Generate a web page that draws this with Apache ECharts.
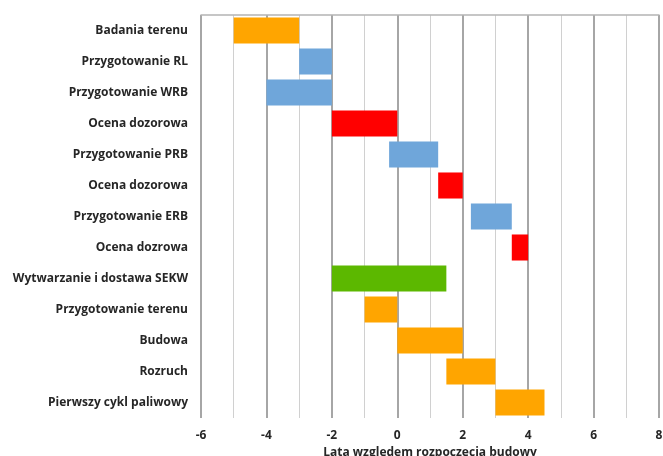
<!DOCTYPE html>
<html>
<head>
<meta charset="utf-8">
<script src="https://cdn.jsdelivr.net/npm/echarts@6/dist/echarts.min.js"></script>
<style>
  html, body { margin: 0; padding: 0; background: #fff; }
  #chart { width: 663px; height: 456px; }
</style>
</head>
<body>
<div id="chart"></div>
<script>
// Harmonogram: etapy i ich przedziały czasu (lata względem rozpoczęcia budowy)
const categories = [
  'Badania terenu',
  'Przygotowanie RL',
  'Przygotowanie WRB',
  'Ocena dozorowa',
  'Przygotowanie PRB',
  'Ocena dozorowa',
  'Przygotowanie ERB',
  'Ocena dozrowa',
  'Wytwarzanie i dostawa SEKW',
  'Przygotowanie terenu',
  'Budowa',
  'Rozruch',
  'Pierwszy cykl paliwowy'
];
const startYears = [-5, -3, -4, -2, -0.25, 1.25, 2.25, 3.5, -2, -1, 0, 1.5, 3];
const endYears   = [-3, -2, -2,  0,  1.25, 2,    3.5,  4,   1.5, 0, 2, 3,   4.5];
const phaseKinds = ['site', 'prep', 'prep', 'review', 'prep', 'review', 'prep', 'review', 'supply', 'site', 'site', 'site', 'site'];
const xTicks = [-6, -4, -2, 0, 2, 4, 6, 8];

const kindColors = {
  site: '#FFA500',
  prep: '#6FA6DA',
  review: '#FF0000',
  supply: '#5CB800'
};

const data = categories.map((c, i) => ({
  value: [startYears[i], endYears[i], i],
  itemStyle: { color: kindColors[phaseKinds[i]] }
}));

const chart = echarts.init(document.getElementById('chart'), null, { renderer: 'canvas' });

const labelFont = {
  fontFamily: 'Open Sans, Liberation Sans, sans-serif',
  fontWeight: 'bold',
  fontSize: 12,
  color: '#262626'
};

chart.setOption({
  animation: false,
  grid: { left: 201, right: 4, top: 15, bottom: 38, outerBoundsMode: 'none', containLabel: false },
  xAxis: [{
    type: 'value',
    min: xTicks[0],
    max: xTicks[xTicks.length - 1],
    interval: 2,
    name: 'Lata względem rozpoczęcia budowy',
    nameLocation: 'middle',
    nameGap: 27,
    nameTextStyle: Object.assign({}, labelFont, { fontSize: 12 }),
    axisLine: { show: false },
    axisTick: { show: false },
    axisLabel: Object.assign({ margin: 12 }, labelFont),
    splitLine: { show: true, lineStyle: { color: '#A6A6A6', width: 2 } },
    minorTick: { show: false, splitNumber: 2 },
    minorSplitLine: { show: true, lineStyle: { color: '#D0D0D0', width: 1 } }
  }, {
    type: 'value',
    position: 'top',
    min: xTicks[0],
    max: xTicks[xTicks.length - 1],
    axisLine: { show: true, lineStyle: { color: '#B4B4B4', width: 1.5 } },
    axisTick: { show: false },
    axisLabel: { show: false },
    splitLine: { show: false }
  }],
  yAxis: {
    type: 'category',
    data: categories,
    inverse: true,
    axisLine: { show: false },
    axisTick: { show: false },
    axisLabel: Object.assign({ margin: 13 }, labelFont),
    splitLine: { show: false }
  },
  series: [{
    type: 'custom',
    xAxisIndex: 0,
    encode: { x: [0, 1], y: 2 },
    data: data,
    renderItem: function (params, api) {
      const idx = api.value(2);
      const p0 = api.coord([api.value(0), idx]);
      const p1 = api.coord([api.value(1), idx]);
      const band = api.size([0, 1])[1];
      const h = band * 0.84;
      return {
        type: 'rect',
        shape: { x: p0[0], y: p0[1] - h / 2, width: p1[0] - p0[0], height: h },
        style: { fill: api.visual('color') }
      };
    }
  }]
});
</script>
</body>
</html>
